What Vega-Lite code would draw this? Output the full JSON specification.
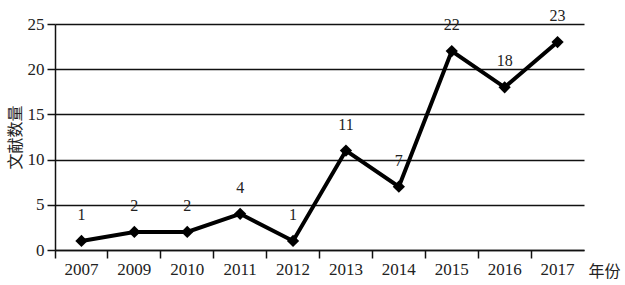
{
  "$schema": "https://vega.github.io/schema/vega-lite/v6.json",
  "autosize": "none",
  "width": 529,
  "height": 226,
  "padding": {"left": 55, "top": 24, "right": 41, "bottom": 35},
  "background": "white",
  "config": {"view": {"stroke": null}, "font": "Liberation Serif"},
  "data": {"values": [
    {"year": "2007", "count": 1},
    {"year": "2009", "count": 2},
    {"year": "2010", "count": 2},
    {"year": "2011", "count": 4},
    {"year": "2012", "count": 1},
    {"year": "2013", "count": 11},
    {"year": "2014", "count": 7},
    {"year": "2015", "count": 22},
    {"year": "2016", "count": 18},
    {"year": "2017", "count": 23}
  ]},
  "encoding": {
    "x": {"field": "year", "type": "ordinal", "sort": null,
      "scale": {"type": "band", "paddingInner": 0, "paddingOuter": 0},
      "axis": {"title": "年份", "titleFont": "Noto Sans CJK SC", "titleFontWeight": "normal", "titleFontSize": 16, "titleColor": "#222",
        "titleAngle": 0, "titleAlign": "left", "titleBaseline": "alphabetic", "titleX": 533, "titleY": 26,
        "labelAngle": 0, "labelFontSize": 17, "labelColor": "#222", "labelPadding": 3,
        "bandPosition": 0, "tickSize": 8, "tickColor": "#111", "tickWidth": 1.5,
        "domainColor": "#111", "domainWidth": 1.5, "grid": false}},
    "y": {"field": "count", "type": "quantitative",
      "scale": {"domain": [0, 25], "nice": false},
      "axis": {"values": [0, 5, 10, 15, 20, 25], "title": "文献数量", "titleFont": "Noto Sans CJK SC", "titleFontWeight": "normal", "titleFontSize": 16, "titleColor": "#222", "titlePadding": 4,
        "labelFontSize": 17, "labelColor": "#222", "labelPadding": 3,
        "tickSize": 8, "tickColor": "#111", "tickWidth": 1.5,
        "domainColor": "#111", "domainWidth": 1.5,
        "grid": true, "gridColor": "#111", "gridWidth": 1.3, "gridOpacity": 1}}
  },
  "layer": [
    {"mark": {"type": "line", "color": "#000", "strokeWidth": 4}},
    {"mark": {"type": "point", "shape": "diamond", "filled": true, "color": "#000", "size": 150, "opacity": 1}},
    {"mark": {"type": "text", "dy": -26, "fontSize": 16, "color": "#222", "font": "Liberation Serif"},
     "encoding": {"text": {"field": "count", "type": "quantitative"}}}
  ]
}
